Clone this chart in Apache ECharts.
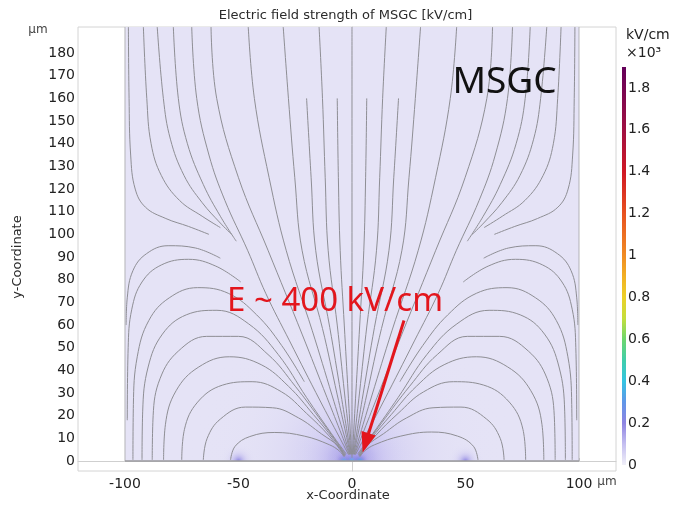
<!DOCTYPE html>
<html>
<head>
<meta charset="utf-8">
<script src="https://cdn.jsdelivr.net/npm/echarts@6/dist/echarts.min.js"></script>
<style>
  html, body { margin: 0; padding: 0; background: #ffffff; }
  #chart { width: 679px; height: 505px; }
</style>
</head>
<body>
<div id="chart"></div>
<script>
// ---------------- data (µm, field in 10^3 kV/cm) ----------------
const xRange = [-120.7, 116.3];
const yRange = [-4.4, 191.5];
const xTicks = [-100, -50, 0, 50, 100];
const yTicks = [0, 10, 20, 30, 40, 50, 60, 70, 80, 90, 100, 110, 120, 130, 140, 150, 160, 170, 180];
const colorTicks = [0, 0.2, 0.4, 0.6, 0.8, 1, 1.2, 1.4, 1.6, 1.8];
const colorMax = 1.9;

// simulation cell
const domainX = [-100, 100];
const domainY = [0, 191.5];
const backgroundField = 0.025;

// strong-field spots at the electrodes (cathodes at ±50, anode strip at 0)
const spotX = [0, 0, -50, 50, -3.5, 0, 3.5];
const spotY = [0, 0, 0, 0, 0, 0, 0];
const spotPeak = [0.14, 0.24, 0.21, 0.21, 0.38, 0.4, 0.38];
const spotReach = [80, 30, 10, 10, 7, 7, 7];

// annotation arrow (tail -> tip)
const arrowTail = [22.9, 62];
const arrowTip = [4.7, 3.8];

// field lines from the drift region into the anode
const centralLine = [[0, 191.5], [0, 1.5]];
const driftLinesLeft = [
  [[-6.5,160],[-6,125],[-5.2,93],[-3.4,60],[-1.7,30],[-0.7,12],[-0.2,3]],
  [[-14.5,191.5],[-13,160],[-11.8,125],[-10.5,93],[-6.5,60],[-3.3,30],[-1.3,12],[-0.4,3]],
  [[-20,160],[-18,125],[-16,93],[-9.8,59],[-4.9,29.6],[-2,11.9],[-0.6,3]],
  [[-30.3,191.5],[-28,160],[-25.2,125],[-22,93],[-13,58.5],[-6.5,29.2],[-2.6,11.7],[-0.8,3]],
  [[-45.7,191.5],[-43,160],[-36.5,125],[-29,93],[-17.5,57.5],[-8.7,28.7],[-3.5,11.5],[-1,2.9]],
  [[-62.1,191.5],[-59.6,160],[-50,125],[-37,93],[-22,56],[-11,28],[-4.4,11.2],[-1.2,2.9]],
  [[-70.6,191.5],[-68.4,160],[-63,135],[-56,115],[-46,93],[-38,74],[-27.5,53],[-14,26.5],[-5.6,10.6],[-1.5,2.8]],
  [[-78.7,191.5],[-76.5,160],[-72.5,140],[-65.5,122],[-58,108],[-51,97]],
  [[-85.8,191.5],[-83.1,160],[-80,142],[-74,126],[-66,114],[-58,105],[-53,100]],
  [[-91.9,191.5],[-90.4,160],[-88.5,140],[-84,126],[-76,115],[-66,108],[-58,103]],
  [[-98.5,191.5],[-98.2,160],[-97.5,135],[-95.5,120],[-91,112],[-82,107],[-72,103.5],[-63,100]]
];
const driftLinesRight = [
  [[6.5,160],[6,125],[5.2,93],[3.4,60],[1.7,30],[0.7,12],[0.2,3]],
  [[15.1,191.5],[13.5,160],[12.2,125],[10.8,93],[6.6,60],[3.3,30],[1.3,12],[0.4,3]],
  [[20.5,160],[18.4,125],[16.3,93],[9.9,59],[4.9,29.6],[2,11.9],[0.6,3]],
  [[30.2,191.5],[27.9,160],[25.1,125],[22,93],[13,58.5],[6.5,29.2],[2.6,11.7],[0.8,3]],
  [[46.1,191.5],[43.3,160],[36.8,125],[29.2,93],[17.6,57.5],[8.7,28.7],[3.5,11.5],[1,2.9]],
  [[61.9,191.5],[59.4,160],[49.8,125],[36.9,93],[22,56],[11,28],[4.4,11.2],[1.2,2.9]],
  [[70.7,191.5],[68.5,160],[63.1,135],[56,115],[46,93],[38,74],[27.5,53],[14,26.5],[5.6,10.6],[1.5,2.8]],
  [[78.5,191.5],[76.3,160],[72.3,140],[65.3,122],[57.8,108],[50.8,97]],
  [[85.8,191.5],[83.1,160],[80,142],[74,126],[66,114],[58,105],[53,100]],
  [[92.1,191.5],[90.6,160],[88.7,140],[84.2,126],[76.2,115],[66.2,108],[58.2,103]],
  [[98.2,191.5],[97.9,160],[97.2,135],[95.2,120],[90.7,112],[81.7,107],[71.7,103.5],[62.7,100]]
];

// field lines arching from the cathode side over to the anode
const returnArcsLeft = [
  [[-53.5,0.5],[-51.5,6.5],[-45,10.8],[-34,12.6],[-21,11],[-10,7.2],[-5.5,4.4],[-3.6,2]],
  [[-65.5,0.5],[-63.8,10],[-58,18.5],[-47,23.8],[-35,23.5],[-23.5,19],[-13.5,12],[-6,6.5],[-3.4,2]],
  [[-75,0.5],[-73.8,14],[-68,26],[-57,33.5],[-44,35],[-31,30.5],[-20,21],[-10,11],[-3.2,2.2]],
  [[-83,0.5],[-82.2,16],[-77.5,31],[-67.5,41.5],[-54,46],[-40,42.5],[-28,33],[-17,20.5],[-8,9.5],[-3,2.5]],
  [[-88,0.5],[-87.6,20],[-84.5,36.5],[-76.5,48.5],[-64,55],[-50,55],[-37,47],[-25,33],[-13,17],[-2.8,2.8]],
  [[-92.5,0.5],[-92.2,22],[-89.8,41.5],[-83.5,56],[-73,64.5],[-59.5,66.5],[-45.5,60.5],[-32.5,47],[-20,28],[-9,12],[-2.6,3.2]],
  [[-96.5,0.5],[-96.3,25],[-94.6,46],[-89.5,62],[-80.5,72],[-68,76.5],[-54.5,74],[-42,64.5],[-31,51],[-21,35]],
  [[-99,18],[-98.6,50],[-97,67],[-92.5,79],[-84,86.5],[-72,89],[-60,86],[-49,79]],
  [[-99.5,60],[-99,72],[-96.5,84],[-90.5,91.5],[-81,95],[-69,94],[-58,89.5]]
];
const returnArcsRight = [
  [[55.5,0.5],[53.5,6.5],[46.5,11],[35,12.8],[21.5,11],[10,7.2],[5.5,4.4],[3.6,2]],
  [[67,0.5],[65.3,10],[59.3,18.5],[48,23.8],[35.7,23.5],[24,19],[13.8,12],[6.2,6.5],[3.4,2]],
  [[76.5,0.5],[75.3,14],[69.3,26],[58,33.5],[44.7,35],[31.5,30.5],[20.3,21],[10.2,11],[3.2,2.2]],
  [[84.5,0.5],[83.7,16],[78.8,31],[68.6,41.5],[54.8,46],[40.6,42.5],[28.4,33],[17.3,20.5],[8.1,9.5],[3,2.5]],
  [[89.5,0.5],[89.1,20],[85.9,36.5],[77.7,48.5],[65,55],[50.8,55],[37.6,47],[25.4,33],[13.2,17],[2.8,2.8]],
  [[94,0.5],[93.7,22],[91.2,41.5],[84.8,56],[74.1,64.5],[60.4,66.5],[46.2,60.5],[33,47],[20.3,28],[9.1,12],[2.6,3.2]],
  [[97,0.5],[96.8,25],[95.1,46],[90,62],[80.9,72],[68.3,76.5],[54.8,74],[42.2,64.5],[31.2,51],[21.1,35]],
  [[99,18],[98.6,50],[97,67],[92.5,79],[84,86.5],[72,89],[60,86],[49,79]],
  [[99.5,60],[99,72],[96.5,84],[90.5,91.5],[81,95],[69,94],[58,89.5]]
];

// ---------------- colour map ----------------
const cmapStops = [
  [0.0, [240, 239, 248]], [0.1, [196, 190, 240]], [0.2, [142, 132, 226]],
  [0.3, [96, 150, 232]], [0.4, [52, 196, 226]], [0.5, [64, 206, 170]],
  [0.6, [110, 214, 110]], [0.7, [196, 222, 60]], [0.8, [236, 208, 40]],
  [0.9, [242, 176, 36]], [1.0, [240, 140, 36]], [1.2, [232, 82, 32]],
  [1.4, [208, 24, 36]], [1.6, [160, 16, 66]], [1.9, [100, 0, 90]]
];
function cmap(v, a) {
  if (a === undefined) a = 1;
  let c = cmapStops[cmapStops.length - 1][1];
  for (let i = 0; i < cmapStops.length - 1; i++) {
    const [v0, c0] = cmapStops[i], [v1, c1] = cmapStops[i + 1];
    if (v <= v1) {
      const t = Math.max(0, (v - v0) / (v1 - v0));
      c = c0.map((k, j) => Math.round(k + (c1[j] - k) * t));
      break;
    }
  }
  return 'rgba(' + c[0] + ',' + c[1] + ',' + c[2] + ',' + a.toFixed(3) + ')';
}

// ---------------- chart ----------------
const chart = echarts.init(document.getElementById('chart'));
const axisFont = 'DejaVu Sans';
const noteFont = 'Noto Sans';
const lineColor = '#8e8e94';
// radial fade positions used for the electrode glows
const glowOffsets = [0, 0.08, 0.16, 0.26, 0.38, 0.5, 0.62, 0.74, 0.86, 1];

const series = [];

// cell background
series.push({
  type: 'custom', xAxisIndex: 0, yAxisIndex: 0, silent: true, z: 1,
  data: [[domainX[0], domainY[0], domainX[1], domainY[1]]],
  renderItem: (p, api) => {
    const a = api.coord([api.value(0), api.value(3)]);
    const b = api.coord([api.value(2), api.value(1)]);
    return { type: 'rect', shape: { x: a[0], y: a[1], width: b[0] - a[0], height: b[1] - a[1] },
             style: { fill: cmap(backgroundField) } };
  }
});

// field strength glows around the electrodes (smooth fall-off to the background)
series.push({
  type: 'custom', xAxisIndex: 0, yAxisIndex: 0, silent: true, z: 2,
  data: spotX.map((x, i) => [x, spotY[i], spotPeak[i], spotReach[i]]),
  renderItem: (p, api) => {
    const c = api.coord([api.value(0), api.value(1)]);
    const peak = api.value(2);
    const r = api.size([api.value(3), 0])[0];
    const stops = glowOffsets.map(t => {
      const k = 1 - t;
      return { offset: t, color: cmap(backgroundField + (peak - backgroundField) * k * k, k * k * (0.6 + 0.4 * k)) };
    });
    return {
      type: 'sector',
      shape: { cx: c[0], cy: c[1], r: r, r0: 0, startAngle: Math.PI, endAngle: Math.PI * 2, clockwise: true },
      style: { fill: { type: 'radial', x: c[0], y: c[1], r: r, global: true, colorStops: stops } }
    };
  }
});

// field lines
[centralLine].concat(driftLinesLeft, driftLinesRight, returnArcsLeft, returnArcsRight).forEach(line => {
  series.push({
    type: 'line', xAxisIndex: 0, yAxisIndex: 0, data: line, smooth: 0.4,
    showSymbol: false, symbol: 'none', silent: true, z: 3,
    lineStyle: { color: lineColor, width: 1 }
  });
});

// cell boundaries
series.push({
  type: 'line', xAxisIndex: 0, yAxisIndex: 0, silent: true, z: 4, symbol: 'none',
  data: [[domainX[0], domainY[1]], [domainX[0], domainY[0]]],
  lineStyle: { color: '#b4b4b8', width: 1 }
});
series.push({
  type: 'line', xAxisIndex: 0, yAxisIndex: 0, silent: true, z: 4, symbol: 'none',
  data: [[domainX[1], domainY[1]], [domainX[1], domainY[0]]],
  lineStyle: { color: '#b4b4b8', width: 1 }
});
series.push({
  type: 'line', xAxisIndex: 0, yAxisIndex: 0, silent: true, z: 4, symbol: 'none',
  data: [[domainX[0], domainY[0]], [domainX[1], domainY[0]]],
  lineStyle: { color: '#9a9a9e', width: 1.5 }
});

// red annotation arrow
series.push({
  type: 'custom', xAxisIndex: 0, yAxisIndex: 0, silent: true, z: 10,
  data: [[arrowTail[0], arrowTail[1], arrowTip[0], arrowTip[1]]],
  renderItem: (p, api) => {
    const a = api.coord([api.value(0), api.value(1)]);
    const b = api.coord([api.value(2), api.value(3)]);
    const dx = b[0] - a[0], dy = b[1] - a[1];
    const len = Math.hypot(dx, dy);
    const ux = dx / len, uy = dy / len, nx = -uy, ny = ux;
    const headLen = 20, headHalf = 7.5;
    const bx = b[0] - ux * headLen, by = b[1] - uy * headLen;
    return {
      type: 'group',
      children: [
        { type: 'line', shape: { x1: a[0], y1: a[1], x2: bx + ux * 2, y2: by + uy * 2 },
          style: { stroke: '#e3161d', lineWidth: 3 } },
        { type: 'polygon', shape: { points: [[b[0], b[1]], [bx + nx * headHalf, by + ny * headHalf], [bx - nx * headHalf, by - ny * headHalf]] },
          style: { fill: '#e3161d' } }
      ]
    };
  }
});

// colour legend bar
series.push({
  type: 'custom', xAxisIndex: 1, yAxisIndex: 1, silent: true, z: 2,
  data: [[0, 0, 1, colorMax]],
  renderItem: (p, api) => {
    const a = api.coord([api.value(0), api.value(3)]);
    const b = api.coord([api.value(2), api.value(1)]);
    return {
      type: 'rect', shape: { x: a[0], y: a[1], width: b[0] - a[0], height: b[1] - a[1] },
      style: {
        fill: {
          type: 'linear', x: 0, y: 0, x2: 0, y2: 1,
          colorStops: cmapStops.map(s => ({ offset: 1 - s[0] / colorMax, color: cmap(s[0]) })).reverse()
        }
      }
    };
  }
});

const anodeField = Math.max.apply(null, spotPeak);

const option = {
  animation: false,
  backgroundColor: '#ffffff',
  grid: [
    { left: 78, top: 27, width: 538, height: 444, show: true, borderColor: '#d4d4d4', borderWidth: 1 },
    { left: 622, top: 67, width: 4, height: 398 }
  ],
  xAxis: [
    {
      gridIndex: 0, type: 'value', min: xRange[0], max: xRange[1],
      axisLine: { show: true, lineStyle: { color: '#cfcfcf' } },
      axisTick: { show: true, inside: true, length: 3, customValues: xTicks, lineStyle: { color: '#c4c4c4' } },
      axisLabel: { customValues: xTicks, fontSize: 14, color: '#222', fontFamily: axisFont, margin: 6 },
      splitLine: { show: false }
    },
    { gridIndex: 1, type: 'value', min: 0, max: 1, show: false }
  ],
  yAxis: [
    {
      gridIndex: 0, type: 'value', min: yRange[0], max: yRange[1],
      axisLine: { show: true, lineStyle: { color: '#cfcfcf' } },
      axisTick: { show: true, inside: true, length: 3, customValues: yTicks, lineStyle: { color: '#c4c4c4' } },
      axisLabel: { customValues: yTicks, fontSize: 14, color: '#222', fontFamily: axisFont, margin: 3 },
      splitLine: { show: false }
    },
    {
      gridIndex: 1, type: 'value', min: 0, max: colorMax, position: 'right',
      axisLine: { show: false }, axisTick: { show: false }, splitLine: { show: false },
      axisLabel: { customValues: colorTicks, fontSize: 14, color: '#222', fontFamily: axisFont, margin: 2 }
    }
  ],
  graphic: [
    { type: 'text', x: 345.5, y: 16, style: { text: 'Electric field strength of MSGC [kV/cm]', fontSize: 13, fontFamily: axisFont, fill: '#2b2b2b', align: 'center', verticalAlign: 'middle' } },
    { type: 'text', x: 38, y: 30, style: { text: 'µm', fontSize: 12, fontFamily: axisFont, fill: '#444', align: 'center', verticalAlign: 'middle' } },
    { type: 'text', x: 607, y: 482, style: { text: 'µm', fontSize: 12, fontFamily: axisFont, fill: '#444', align: 'center', verticalAlign: 'middle' } },
    { type: 'text', x: 348, y: 496, style: { text: 'x-Coordinate', fontSize: 13, fontFamily: axisFont, fill: '#2b2b2b', align: 'center', verticalAlign: 'middle' } },
    { type: 'text', x: 18, y: 257, rotation: Math.PI / 2, style: { text: 'y-Coordinate', fontSize: 13, fontFamily: axisFont, fill: '#2b2b2b', align: 'center', verticalAlign: 'middle' } },
    { type: 'text', x: 626, y: 35, style: { text: 'kV/cm', fontSize: 14, fontFamily: axisFont, fill: '#222', align: 'left', verticalAlign: 'middle' } },
    { type: 'text', x: 626, y: 53, style: { text: '×10³', fontSize: 14, fontFamily: axisFont, fill: '#222', align: 'left', verticalAlign: 'middle' } },
    { type: 'text', x: 504.5, y: 82, z: 20, style: { text: 'MSGC', fontSize: 37, fontFamily: noteFont, fill: '#111', align: 'center', verticalAlign: 'middle' } },
    { type: 'text', x: 335, y: 302, z: 20, style: { text: 'E ~ ' + Math.round(anodeField * 1000) + ' kV/cm', fontSize: 33, fontFamily: noteFont, fill: '#e3161d', align: 'center', verticalAlign: 'middle' } }
  ],
  series: series
};

chart.setOption(option);
</script>
</body>
</html>
